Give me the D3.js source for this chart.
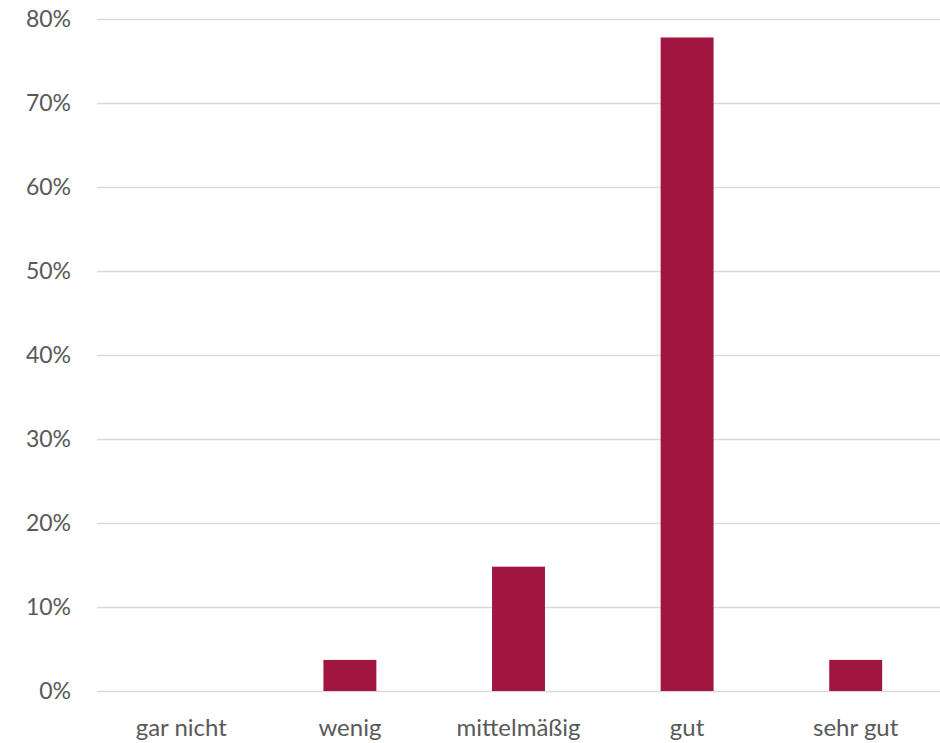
<!DOCTYPE html>
<html>
<head>
<meta charset="utf-8">
<script src="https://cdn.jsdelivr.net/npm/d3@7"></script>
<style>
	body{margin:0;background:#fff;}
	text{font-family:Lato,"Open Sans",sans-serif;fill:#595959;}
</style>
</head>
<body>
<div id="chart"></div>
<script>
// answers (27 people), share per category
const categories = ['gar nicht','wenig','mittelmäßig','gut','sehr gut']
const shares = [0, 0.037, 0.148, 0.778, 0.037]
const yTicks = [0,0.1,0.2,0.3,0.4,0.5,0.6,0.7,0.8]

const width = 940
const height = 743
const margin = {top:19,right:0,bottom:52,left:97}

const svg = d3.select('#chart').append('svg')
	.attr('width',width)
	.attr('height',height)

const x = d3.scaleBand()
	.domain(categories)
	.range([margin.left,width-margin.right])
	.paddingInner(0.686)
	.paddingOuter(0.343)

const y = d3.scaleLinear()
	.domain([0,0.8])
	.range([height-margin.bottom,margin.top])

//grid lines
svg.append('g')
	.selectAll('line')
	.data(yTicks)
	.enter().append('line')
	.attr('x1',margin.left)
	.attr('x2',width-margin.right)
	.attr('y1',function(d){return Math.round(y(d))+0.5})
	.attr('y2',function(d){return Math.round(y(d))+0.5})
	.attr('stroke','#d9d9d9')
	.attr('stroke-width',1.5)

//y labels
svg.append('g')
	.selectAll('text')
	.data(yTicks)
	.enter().append('text')
	.attr('x',71)
	.attr('y',function(d){return y(d)})
	.attr('dy','0.36em')
	.attr('text-anchor','end')
	.style('font-size','23px')
	.text(d3.format('.0%'))

//bars
svg.append('g')
	.selectAll('rect')
	.data(categories)
	.enter().append('rect')
	.attr('x',function(d){return x(d)})
	.attr('width',x.bandwidth())
	.attr('y',function(d,i){return y(shares[i])})
	.attr('height',function(d,i){return y(0)-y(shares[i])})
	.attr('fill','#a11641')

//x labels
svg.append('g')
	.selectAll('text')
	.data(categories)
	.enter().append('text')
	.attr('x',function(d){return x(d)+x.bandwidth()/2})
	.attr('y',736)
	.attr('text-anchor','middle')
	.style('font-size','24px')
	.text(function(d){return d})
</script>
</body>
</html>
